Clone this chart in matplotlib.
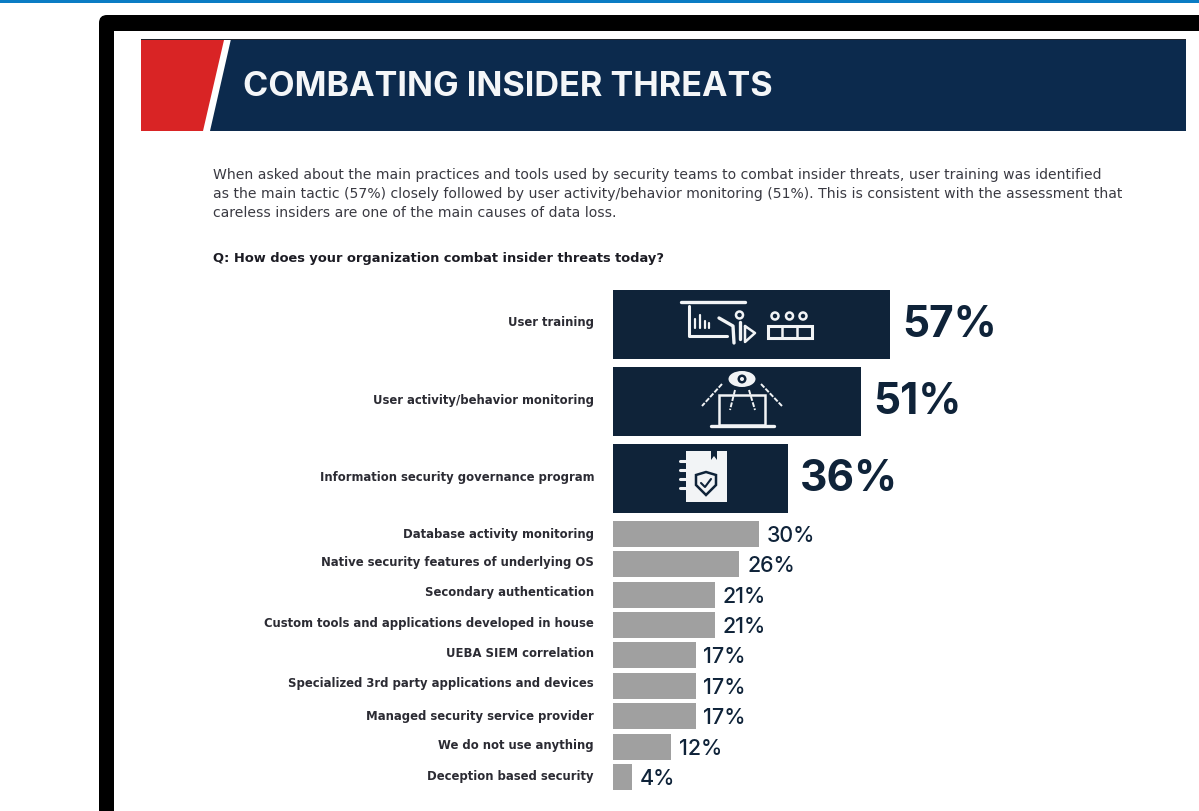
import matplotlib
matplotlib.use("Agg")
import matplotlib.pyplot as plt
from matplotlib.patches import Polygon, Rectangle, FancyBboxPatch, Circle, Ellipse

# Survey results
categories = [
    "User training", "User activity/behavior monitoring",
    "Information security governance program", "Database activity monitoring",
    "Native security features of underlying OS", "Secondary authentication",
    "Custom tools and applications developed in house", "UEBA SIEM correlation",
    "Specialized 3rd party applications and devices",
    "Managed security service provider", "We do not use anything",
    "Deception based security",
]
values = [57, 51, 36, 30, 26, 21, 21, 17, 17, 17, 12, 4]

title = "COMBATING INSIDER THREATS"
intro = [
    "When asked about the main practices and tools used by security teams to combat insider threats, user training was identified",
    "as the main tactic (57%) closely followed by user activity/behavior monitoring (51%). This is consistent with the assessment that",
    "careless insiders are one of the main causes of data loss.",
]
question = "Q: How does your organization combat insider threats today?"

# Row layout in pixels from the top of the page
row_centers = [325, 402, 479, 534.5, 564.5, 595.5, 626, 656, 686.5, 717, 747.5, 778]
row_heights = [69, 69, 69, 26, 26, 26, 26, 26, 26, 26, 26, 26]
label_centers = [323, 400.5, 477.5, 535, 563, 593, 624, 654, 684, 717, 746, 777]

W, H = 1199, 812
NAVY = "#0f2339"
HEADER = "#0c2a4d"
GREY = "#a0a0a0"
INK = "#2b2b33"
LINE = "#f2f4f6"

fig = plt.figure(figsize=(W / 100, H / 100), dpi=100, facecolor="white")


def pixel_axes(zorder):
    """Full-figure axes addressed in pixels from the top-left corner."""
    ax = fig.add_axes([0, 0, 1, 1], facecolor="none", zorder=zorder)
    ax.set_xlim(0, W)
    ax.set_ylim(H, 0)
    ax.axis("off")
    return ax


page = pixel_axes(1)
icons = pixel_axes(3)

page.add_patch(Rectangle((0, 0), W, 3.5, fc="#0a7cc4", ec="none"))
page.add_patch(FancyBboxPatch((107, 24), W, H, boxstyle="round,pad=8,rounding_size=8",
                              fc="black", ec="none"))
page.add_patch(Rectangle((114, 32), W, H, fc="white", ec="none"))

page.add_patch(Polygon([[141, 41], [224, 41], [203, 132], [141, 132]], fc="#d92425", ec="none"))
page.add_patch(Polygon([[231, 40], [1186, 40], [1186, 132], [210, 132]], fc=HEADER, ec="none"))
page.add_patch(Rectangle((141, 39.5), 1045, 1.5, fc="#20242c", ec="none"))
page.text(243, 87, title, color="#f4f6f8", fontsize=24.6, family="Inter",
          fontweight="bold", va="center", ha="left")

for y, line in zip([175, 194, 213], intro):
    page.text(213, y, line, color="#3a3a42", fontsize=10.1, family="DejaVu Sans",
              va="center", ha="left")
page.text(213, 259, question, color="#1c1c24", fontsize=9.38, family="DejaVu Sans",
          fontweight="bold", va="center", ha="left")

for label, y in zip(categories, label_centers):
    page.text(594, y, label, color=INK, fontsize=8.4, family="DejaVu Sans",
              fontweight="bold", va="center", ha="right")

# Bars share the page's vertical pixels; the horizontal axis is in percent
x0 = 613
px_per_pct = 4.86
bars = fig.add_axes([x0 / W, 0, 1 - x0 / W, 1], facecolor="none", zorder=2)
bars.set_xlim(0, (W - x0) / px_per_pct)
bars.set_ylim(H, 0)
bars.axis("off")
colors = [NAVY] * 3 + [GREY] * (len(values) - 3)
bars.barh(row_centers, values, height=row_heights, color=colors, edgecolor="none")

for i, (v, y) in enumerate(zip(values, row_centers)):
    big = i < 3
    bars.text(v + (2.55 if big else 1.6), y + (0.5 if big else 1.5), f"{v}%", color=NAVY,
              family="Inter", fontweight="bold" if big else "medium",
              fontsize=30.5 if big else 15.4, va="center", ha="left")


def stroke(points, lw=2.0, color=LINE, **kw):
    xs, ys = zip(*points)
    icons.plot(xs, ys, color=color, lw=lw, solid_capstyle="round", **kw)


# Training icon: presentation board with presenter and audience
stroke([(681, 303), (745, 303)], lw=2.4)
stroke([(689, 307), (689, 337), (727, 337)], lw=2.2)
for x, top in [(695, 320), (700, 316), (705, 322), (709, 324)]:
    stroke([(x, top), (x, 329)], lw=1.6)
stroke([(719, 319), (733, 327), (734, 344)], lw=2.4)
icons.add_patch(Circle((739.5, 316), 3.5, fc="none", ec=LINE, lw=1.8))
stroke([(740, 323), (740, 340)], lw=2.4)
stroke([(745, 327), (755, 334), (745, 343), (745, 327)], lw=1.8)
for cx in (775, 789.5, 803):
    icons.add_patch(Circle((cx, 317), 3.5, fc="none", ec=LINE, lw=1.8))
icons.add_patch(Rectangle((768, 327), 44, 12, fc="none", ec=LINE, lw=2.2))
stroke([(782, 327), (782, 339)], lw=1.8)
stroke([(797, 327), (797, 339)], lw=1.8)

# Monitoring icon: eye above a laptop
icons.add_patch(Ellipse((742, 380), 27, 16, fc=LINE, ec="none"))
icons.add_patch(Circle((742, 380), 4.5, fc=NAVY, ec="none"))
icons.add_patch(Circle((742, 380), 2, fc=LINE, ec="none"))
icons.add_patch(Rectangle((719, 396), 46, 30, fc="none", ec=LINE, lw=1.8))
stroke([(711, 427), (774, 427)], lw=2.4)
for a, b in [((722, 385), (702, 407)), ((761, 385), (782, 407)),
             ((735, 391), (730, 411)), ((749, 391), (755, 411))]:
    stroke([a, b], lw=1.4, linestyle=(0, (2.5, 0.8)))

# Governance icon: notebook with a shield
icons.add_patch(Polygon([[686, 452], [711, 452], [711, 461], [714, 457], [717, 461], [717, 452],
                         [727, 452], [727, 503], [686, 503]], fc=LINE, ec="none"))
for y in (462, 471, 480, 489):
    stroke([(680, y), (688, y)], lw=2.2)
icons.add_patch(Polygon([[706, 473], [716, 476], [716, 486], [706, 496], [696, 486], [696, 476]],
                        fc="none", ec=NAVY, lw=1.8))
stroke([(701, 484), (705, 488), (711, 480)], lw=1.5, color=NAVY)

icons.set_xlim(0, W)
icons.set_ylim(H, 0)
fig.savefig("out.png", dpi=100, facecolor="white")
